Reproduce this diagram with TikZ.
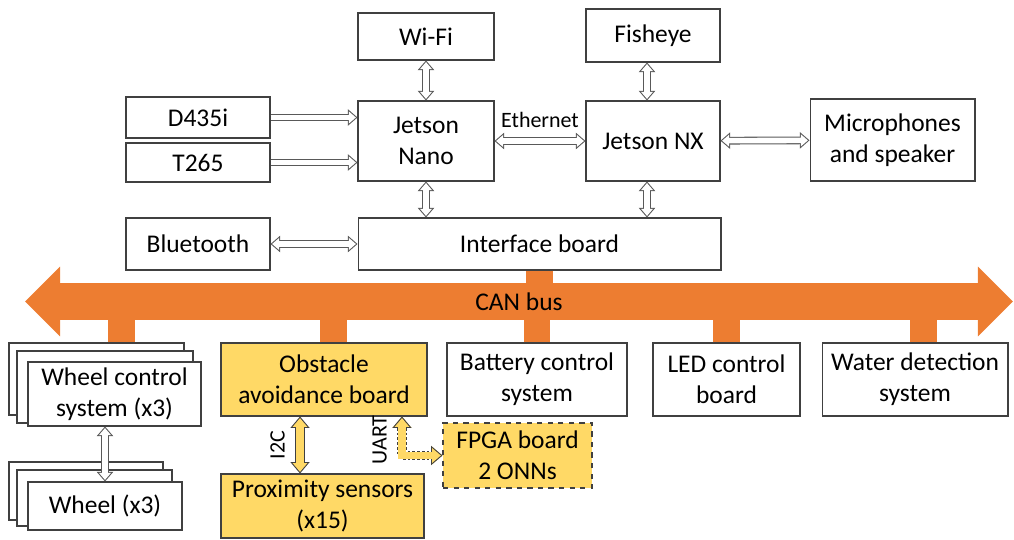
\documentclass[tikz,border=0pt]{standalone}
\usepackage{fontspec}
\setmainfont{Carlito}
\usetikzlibrary{arrows.meta}

\definecolor{canorange}{HTML}{ED7D31}
\definecolor{boardyellow}{HTML}{FFD966}
\definecolor{edgegray}{HTML}{404040}

\tikzset{
  box/.style = {draw = edgegray, fill = white, line width = 0.6pt, align = center, inner sep = 0pt},
  sz/.style 2 args = {minimum width = #1, minimum height = #2},
  ybox/.style = {box, fill = boardyellow},
  outerhead/.tip = {Triangle[width = 9.5pt, length = 5.5pt, line width = 0pt]},
  innerhead/.tip = {Triangle[width = 6.9pt, length = 4pt, line width = 0pt]},
  bigouter/.tip = {Triangle[width = 11pt, length = 6.5pt, line width = 0pt]},
  biginner/.tip = {Triangle[width = 8.4pt, length = 4.97pt, line width = 0pt]},
  harrow/.style = {draw = gray!70!black, line width = 4.4pt, outerhead-outerhead,
    postaction = {draw = white, line width = 3.2pt, innerhead-innerhead, shorten < = 0.92pt, shorten > = 0.92pt}},
  hsingle/.style = {draw = gray!70!black, line width = 4.4pt, -outerhead,
    postaction = {draw = white, line width = 3.2pt, -innerhead, shorten > = 0.92pt}},
  yarrow/.style = {draw = gray!50!black, line width = 5.2pt, bigouter-bigouter,
    postaction = {draw = boardyellow, line width = 4pt, solid, biginner-biginner, shorten < = 0.93pt, shorten > = 0.93pt}},
  uarrow/.style = {yarrow, dash pattern = on 1.6pt off 1.1pt, preaction = {draw = boardyellow, solid}},
  stub/.style = {draw = canorange, line width = 15.3pt},
  smalltext/.style = {font = \fontsize{12.5}{15}\selectfont}
}

\begin{document}
\begin{tikzpicture}[x = 0.02cm, y = -0.02cm, font = \fontsize{14.5}{17.5}\selectfont]
            \useasboundingbox (0,0) rectangle (1014,540);

            % top row
            \node[box, sz = {2.72cm}{0.94cm}] (wifi) at (426,36.5) {Wi-Fi};
            \node[box, sz = {2.68cm}{1.06cm}] (fish) at (653,35.5) {Fisheye};
            \node[box, sz = {2.88cm}{0.82cm}] (d435) at (198,117.5) {D435i};
            \node[box, sz = {2.88cm}{0.78cm}] (t265) at (198,162.5) {T265};
            \node[box, sz = {2.72cm}{1.6cm}] (nano) at (426,141) {Jetson\\Nano};
            \node[box, sz = {2.68cm}{1.6cm}] (nx) at (653,141) {Jetson NX};
            \node[box, sz = {3.3cm}{1.64cm}] (mic) at (892.5,140) {Microphones\\and speaker};
            \node[box, sz = {2.88cm}{1.04cm}] (bt) at (198,244) {Bluetooth};
            \node[box, sz = {7.26cm}{1.04cm}] (ifb) at (539.5,244) {Interface board};

            % CAN bus
            \coordinate (canL) at (25,301.5);
            \coordinate (canR) at (1013,301.5);
            \draw[stub] (ifb.south) -- (ifb.south |- canL);

            % stacked boxes
            \node[box, sz = {3.5cm}{1.44cm}] (wcs1) at (96.5,379) {};
            \node[box, sz = {3.52cm}{1.44cm}] (wcs2) at (105,387) {};
            \node[box, sz = {3.46cm}{1.28cm}] (wcs) at (114.5,394) {Wheel control\\system (x3)};
            \node[box, sz = {3.08cm}{1.16cm}] (wh1) at (86,491) {};
            \node[box, sz = {3.1cm}{1.12cm}] (wh2) at (94.5,498) {};
            \node[box, sz = {3.08cm}{0.96cm}] (wh) at (105,506) {Wheel (x3)};

            % bottom row
            \node[ybox, sz = {4.12cm}{1.46cm}] (obst) at (324,379.5) {Obstacle\\avoidance board};
            \node[box, sz = {3.6cm}{1.46cm}] (batt) at (537,379.5) {Battery control\\system};
            \node[box, sz = {2.94cm}{1.46cm}] (led) at (726.5,379.5) {LED control\\board};
            \node[box, sz = {3.72cm}{1.46cm}] (water) at (915,379.5) {Water detection\\system};
            \node[ybox, sz = {4.06cm}{1.28cm}] (prox) at (322.5,506) {Proximity sensors\\(x15)};
            \node[ybox, dashed, sz = {2.98cm}{1.3cm}] (fpga) at (517.5,455.5) {FPGA board\\2 ONNs};

            \draw[stub] ([xshift = 0.5cm]wcs1.north) -- ([xshift = 0.5cm]wcs1.north |- canL);
            \draw[stub] ([xshift = 0.19cm]obst.north) -- ([xshift = 0.19cm]obst.north |- canL);
            \draw[stub] (batt.north) -- (batt.north |- canL);
            \draw[stub] (led.north) -- (led.north |- canL);
            \draw[stub] ([xshift = 0.17cm]water.north) -- ([xshift = 0.17cm]water.north |- canL);

            \draw[canorange, line width = 21pt,
                  {Triangle[width = 38.5pt, length = 20pt]}-{Triangle[width = 38.5pt, length = 20pt]}]
            (canL) -- node[black]{CAN bus} (canR);

            % links
            \draw[harrow] (wifi) -- (nano);
            \draw[harrow] ([xshift = -0.12cm]fish.south) -- ([xshift = -0.12cm]nx.north);
            \draw[hsingle] (d435.east) -- (d435.east -| nano.west);
            \draw[hsingle] (t265.east) -- (t265.east -| nano.west);
            \draw[harrow] (nano) -- node[above = 2pt, smalltext]{Ethernet} (nx);
            \draw[harrow] (nx) -- (mic);
            \draw[harrow] (nano) -- (nano |- ifb.north);
            \draw[harrow] ([xshift = -0.12cm]nx.south) -- ([xshift = -0.12cm]nx.south |- ifb.north);
            \draw[harrow] (bt) -- (ifb);
            \draw[harrow] (wh.north) -- (wh.north |- wcs.south);

            \draw[yarrow] ([xshift = -0.48cm]obst.south) --
            node[anchor = south, rotate = 90, smalltext, inner sep = 6pt]{I2C}
            ([xshift = -0.48cm]obst.south |- prox.north);

            \draw[uarrow]
            ([xshift = 1.56cm]obst.south) |-
            node[pos = 0.3, anchor = south, rotate = 90, smalltext, inner sep = 6pt]{UART}
            (fpga.west);
        \end{tikzpicture}
\end{document}
